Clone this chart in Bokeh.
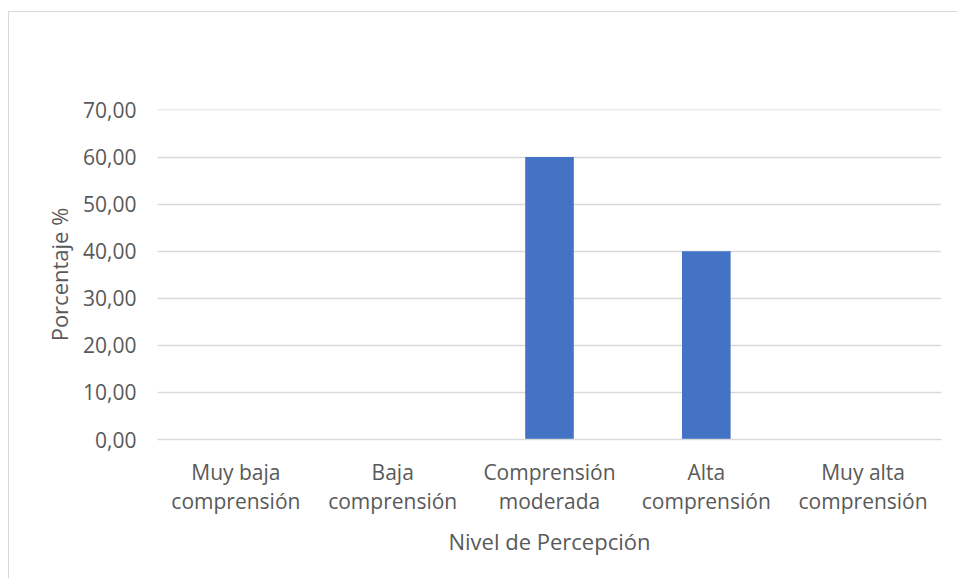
from bokeh.plotting import figure
from bokeh.embed import file_html
from bokeh.resources import INLINE
from bokeh.models import FixedTicker, Range1d, ColumnDataSource
from bokeh.core.properties import value

categories = ["Muy baja\ncomprensión", "Baja\ncomprensión", "Comprensión\nmoderada",
              "Alta\ncomprensión", "Muy alta\ncomprensión"]
values = [0.0, 0.0, 60.0, 40.0, 0.0]
y_ticks = [0, 10, 20, 30, 40, 50, 60, 70]
y_tick_labels = ["0,00", "10,00", "20,00", "30,00", "40,00", "50,00", "60,00", "70,00"]

FONT = "Open Sans"
GREY = "#595959"
GRID = "#d9d9d9"

xs = list(range(len(categories)))
src = ColumnDataSource(dict(x=xs, top=values))

p = figure(width=949, height=567, output_backend="svg", toolbar_location=None,
           x_range=Range1d(-0.5, len(categories) - 0.5), y_range=Range1d(0, 70.1),
           min_border_left=148, min_border_right=17, min_border_top=97, min_border_bottom=140)
p.styles = {"border-top": "1px solid #d9d9d9", "border-left": "1px solid #d9d9d9",
            "margin-top": "11px", "margin-left": "8px"}
p.outline_line_color = None
p.background_fill_color = "white"
p.border_fill_color = "white"

p.vbar(x="x", top="top", width=0.31, bottom=0, source=src, fill_color="#4472C4", line_color=None)

# x axis
p.xaxis.ticker = FixedTicker(ticks=xs)
p.xaxis.major_label_overrides = {i: c for i, c in enumerate(categories)}
p.xaxis.major_tick_line_color = None
p.xaxis.minor_tick_line_color = None
p.xaxis.axis_line_color = GRID
p.xaxis.axis_line_width = 1.5
p.xaxis.major_label_text_font = FONT
p.xaxis.major_label_text_font_size = "21px"
p.xaxis.major_label_text_color = GREY
p.xaxis.major_label_text_line_height = 1.05
p.xaxis.major_label_standoff = 12
p.xaxis.axis_label = "Nivel de Percepción"
p.xaxis.axis_label_text_font = FONT
p.xaxis.axis_label_text_font_size = "22px"
p.xaxis.axis_label_text_font_style = "normal"
p.xaxis.axis_label_text_color = GREY
p.xaxis.axis_label_standoff = 8

# y axis
p.yaxis.ticker = FixedTicker(ticks=y_ticks)
p.yaxis.major_label_overrides = {t: l for t, l in zip(y_ticks, y_tick_labels)}
p.yaxis.major_tick_line_color = None
p.yaxis.minor_tick_line_color = None
p.yaxis.axis_line_color = None
p.yaxis.major_label_text_font = FONT
p.yaxis.major_label_text_font_size = "21px"
p.yaxis.major_label_text_color = GREY
p.yaxis.major_label_standoff = 15
p.yaxis.axis_label = "Porcentaje %"
p.yaxis.axis_label_text_font = FONT
p.yaxis.axis_label_text_font_size = "22px"
p.yaxis.axis_label_text_font_style = "normal"
p.yaxis.axis_label_text_color = GREY
p.yaxis.axis_label_standoff = 6

p.xgrid.grid_line_color = None
p.ygrid.grid_line_color = GRID
p.ygrid.grid_line_width = 1.5

open("out.html", "w").write(file_html(p, INLINE))
